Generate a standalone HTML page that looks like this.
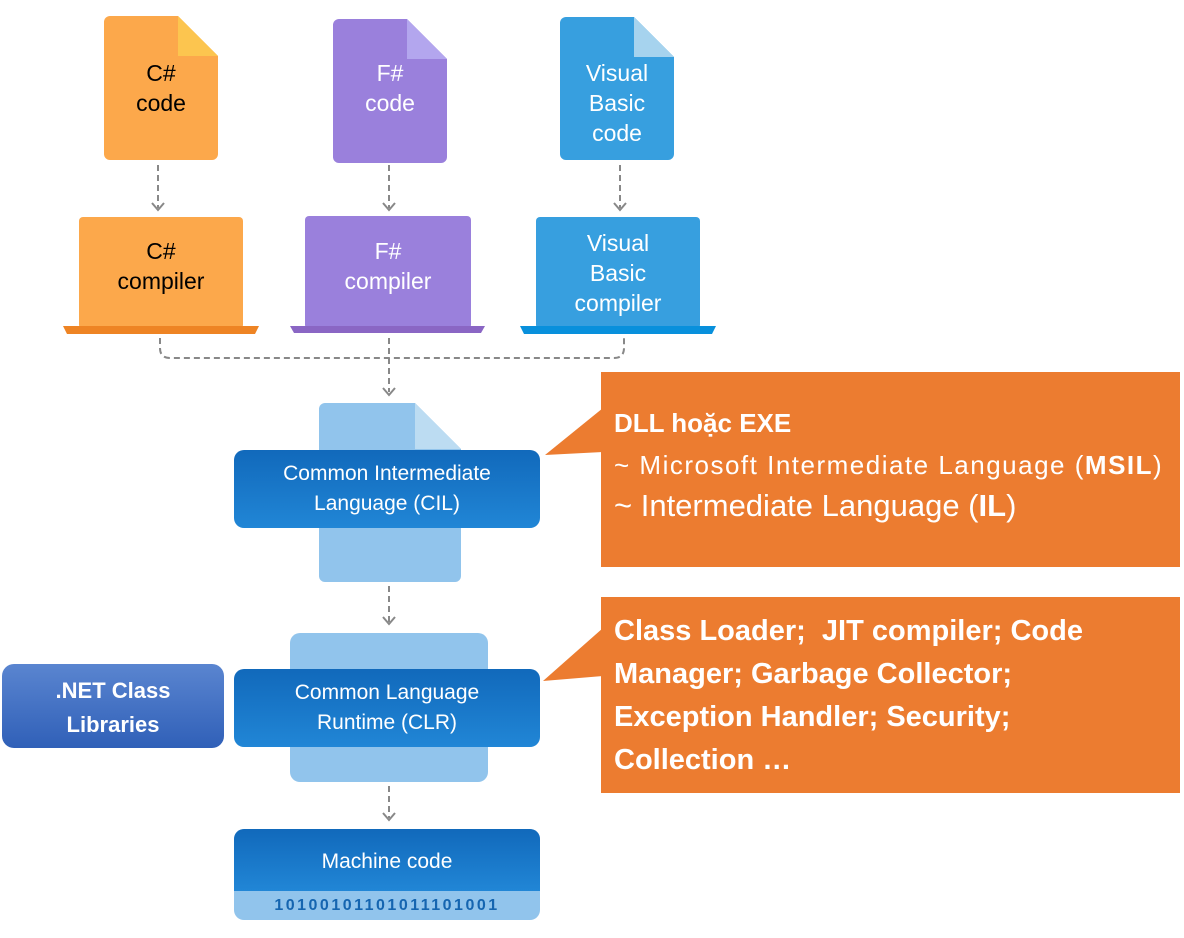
<!DOCTYPE html>
<html><head><meta charset="utf-8"><style>
body{margin:0;width:1184px;height:938px;background:#fff;position:relative;overflow:hidden;font-family:"Liberation Sans",sans-serif}
.a{position:absolute}
.t{position:absolute;text-align:center;font-size:23px;line-height:30px}
.dk{background:linear-gradient(#1169bb,#2186d6);border-radius:10px;color:#fff}
.co{background:#ec7c30;color:#fff;font-weight:bold}
</style></head><body>
<svg class="a" style="left:0;top:0" width="1184" height="938">
<path d="M110 16 H178 L218 56 V154 a6 6 0 0 1 -6 6 H110 a6 6 0 0 1 -6 -6 V22 a6 6 0 0 1 6 -6Z" fill="#fca84b"/>
<path d="M178 16 L218 56 H178Z" fill="#fcc54f"/>
<path d="M339 19 H407 L447 59 V157 a6 6 0 0 1 -6 6 H339 a6 6 0 0 1 -6 -6 V25 a6 6 0 0 1 6 -6Z" fill="#9a80dc"/>
<path d="M407 19 L447 59 H407Z" fill="#b3a6ee"/>
<path d="M566 17 H634 L674 57 V154 a6 6 0 0 1 -6 6 H566 a6 6 0 0 1 -6 -6 V23 a6 6 0 0 1 6 -6Z" fill="#379fdf"/>
<path d="M634 17 L674 57 H634Z" fill="#a6d3ee"/>
<rect x="79" y="217" width="164" height="112" rx="4" fill="#fca84b"/>
<path d="M63 326 H259 L255 334 H67Z" fill="#ee8424"/>
<rect x="305" y="216" width="166" height="113" rx="4" fill="#9a80dc"/>
<path d="M290 326 H485 L481 333 H294Z" fill="#8a66c4"/>
<rect x="536" y="217" width="164" height="112" rx="4" fill="#379fdf"/>
<path d="M520 326 H716 L712 334 H524Z" fill="#0890dc"/>
<g stroke="#888" stroke-width="2" stroke-dasharray="6 4" fill="none">
<path d="M158 165 V208"/><path d="M389 165 V208"/><path d="M620 165 V208"/>
<path d="M160 338 V348 q0 10 10 10 H614 q10 0 10 -10 V338"/>
<path d="M389 338 V392"/><path d="M389 586 V622"/><path d="M389 786 V818"/>
</g>
<g stroke="#888" stroke-width="2" fill="none">
<path d="M152 203 l6 7 6 -7"/><path d="M383 203 l6 7 6 -7"/><path d="M614 203 l6 7 6 -7"/>
<path d="M383 388 l6 7 6 -7"/><path d="M383 617 l6 7 6 -7"/><path d="M383 813 l6 7 6 -7"/>
</g>
<path d="M325 403 H415 L461 449 V576 a6 6 0 0 1 -6 6 H325 a6 6 0 0 1 -6 -6 V409 a6 6 0 0 1 6 -6Z" fill="#91c4ec"/>
<path d="M415 403 L461 449 H415Z" fill="#bcdcf2"/>
<rect x="290" y="633" width="198" height="149" rx="10" fill="#91c4ec"/>
<path d="M603 408 L545 455 L603 452Z" fill="#ec7c30"/>
<path d="M603 628 L543 681 L603 676Z" fill="#ec7c30"/>
</svg>
<div class="t" style="left:104px;top:58px;width:114px;color:#000">C#<br>code</div>
<div class="t" style="left:333px;top:58px;width:114px;color:#fff">F#<br>code</div>
<div class="t" style="left:560px;top:58px;width:114px;color:#fff">Visual<br>Basic<br>code</div>
<div class="t" style="left:79px;top:236px;width:164px;color:#000">C#<br>compiler</div>
<div class="t" style="left:305px;top:236px;width:166px;color:#fff">F#<br>compiler</div>
<div class="t" style="left:536px;top:228px;width:164px;color:#fff">Visual<br>Basic<br>compiler</div>
<div class="a dk" style="left:234px;top:450px;width:306px;height:78px"></div>
<div class="t" style="left:234px;top:459px;width:306px;color:#fff;font-size:21px">Common Intermediate<br>Language (CIL)</div>
<div class="a dk" style="left:234px;top:669px;width:306px;height:78px"></div>
<div class="t" style="left:234px;top:678px;width:306px;color:#fff;font-size:21px">Common Language<br>Runtime (CLR)</div>
<div class="a" style="left:2px;top:664px;width:222px;height:84px;border-radius:12px;background:linear-gradient(#5a85d0,#3060b8)"></div>
<div class="t" style="left:2px;top:674px;width:222px;color:#fff;font-weight:bold;font-size:22px;line-height:34px">.NET Class<br>Libraries</div>
<div class="a" style="left:234px;top:829px;width:306px;height:91px;border-radius:10px;overflow:hidden;background:#91c4ec">
<div style="height:62px;background:linear-gradient(#1169bb,#2186d6);color:#fff;font-size:21px;text-align:center;line-height:66px">Machine code</div>
<div style="text-align:center;color:#1565b0;font-weight:bold;font-size:16px;letter-spacing:2.5px;line-height:29px">10100101101011101001</div>
</div>
<div class="a co" style="left:601px;top:372px;width:579px;height:195px"></div>
<div class="a" style="left:614px;top:408px;color:#fff;font-weight:bold;font-size:26px;line-height:30px;white-space:nowrap">DLL hoặc EXE</div>
<div class="a" style="left:614px;top:448px;color:#fff;font-size:26px;line-height:34px;white-space:nowrap;letter-spacing:1.5px">~ Microsoft Intermediate Language (<b>MSIL</b>)</div>
<div class="a" style="left:614px;top:486px;color:#fff;font-size:31px;line-height:40px;white-space:nowrap">~ Intermediate Language (<b>IL</b>)</div>
<div class="a co" style="left:601px;top:597px;width:579px;height:196px"></div>
<div class="a" style="left:614px;top:610px;color:#fff;font-weight:bold;font-size:29px;line-height:43px;white-space:nowrap">Class Loader;&nbsp; JIT compiler; Code<br>Manager; Garbage Collector;<br>Exception Handler; Security;<br>Collection …</div>
</body></html>
